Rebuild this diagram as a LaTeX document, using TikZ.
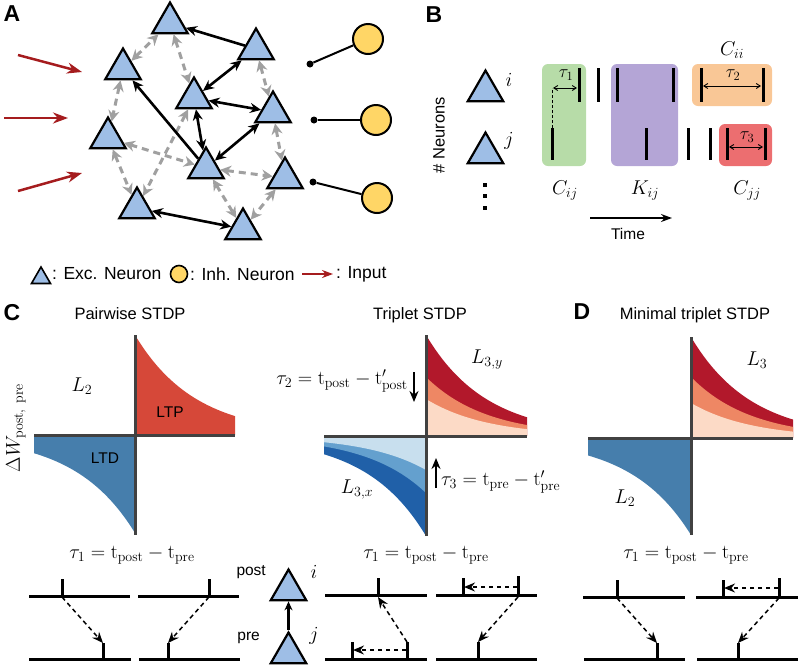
\RequirePackage{fix-cm}
\documentclass[tikz,border=0pt]{standalone}
\usepackage{fontspec}
\setsansfont{Liberation Sans}
\usetikzlibrary{arrows.meta,shapes.geometric}
\definecolor{excblue}{RGB}{158,190,230}
\definecolor{inhyellow}{RGB}{255,214,102}
\definecolor{edgegray}{RGB}{160,160,160}
\definecolor{inputred}{RGB}{165,28,30}
\definecolor{boxgreen}{RGB}{183,220,168}
\definecolor{boxpurple}{RGB}{180,165,214}
\definecolor{boxorange}{RGB}{249,199,150}
\definecolor{boxred}{RGB}{236,110,112}
\definecolor{ltpred}{RGB}{214,72,57}
\definecolor{ltdblue}{RGB}{70,126,172}
\definecolor{dred}{RGB}{178,24,43}
\definecolor{ored}{RGB}{238,135,100}
\definecolor{peach}{RGB}{252,218,198}
\definecolor{dblue}{RGB}{32,96,168}
\definecolor{mblue}{RGB}{100,160,206}
\definecolor{lblue}{RGB}{200,223,238}
\definecolor{axisgray}{RGB}{65,65,65}
\newcommand{\posfill}[5]{\fill[#1] (#2,#3) -- plot[domain=0:#5,samples=50] ({#2+\x},{#3-#4*exp(-\x/60)}) -- ({#2+#5},#3) -- cycle;}
\newcommand{\negfill}[5]{\fill[#1] (#2,#3) -- plot[domain=0:#5,samples=50] ({#2-\x},{#3+#4*exp(-\x/60)}) -- ({#2-#5},#3) -- cycle;}
\tikzset{
 exc/.style={regular polygon, regular polygon sides=3, draw=black, line width=2.2pt, fill=excblue, minimum size=41pt, inner sep=0pt},
 excsmall/.style={regular polygon, regular polygon sides=3, draw=black, line width=1.6pt, fill=excblue, minimum size=22pt, inner sep=0pt},
 inh/.style={circle, draw=black, line width=2pt, fill=inhyellow, minimum size=30pt, inner sep=0pt},
 inhsmall/.style={circle, draw=black, line width=1.6pt, fill=inhyellow, minimum size=17pt, inner sep=0pt},
 sedge/.style={draw=black, line width=2.6pt, {Stealth[length=11pt,width=10pt]}-{Stealth[length=11pt,width=10pt]}},
 sedgeone/.style={draw=black, line width=2.6pt, -{Stealth[length=11pt,width=10pt]}},
 dedge/.style={draw=edgegray, line width=3pt, dash pattern=on 7pt off 5pt, {Stealth[length=11pt,width=11pt]}-{Stealth[length=11pt,width=11pt]}},
 inarrow/.style={draw=inputred, line width=2.5pt, -{Stealth[length=15pt,width=11pt]}},
 mathlbl/.style={font=\fontsize{20}{22}\selectfont, inner sep=0pt},
 mathsmall/.style={font=\fontsize{18}{20}\selectfont, inner sep=0pt},
 sanslbl/.style={font=\sffamily\fontsize{16.5}{18}\selectfont, inner sep=0pt},
 sanslegend/.style={font=\sffamily\fontsize{17.5}{19}\selectfont, inner sep=0pt},
 sanssmall/.style={font=\sffamily\fontsize{15.5}{17}\selectfont, inner sep=0pt},
 panellbl/.style={font=\sffamily\bfseries\fontsize{23}{25}\selectfont, inner sep=0pt},
 spike/.style={line width=3pt},
 baseln/.style={line width=3pt},
 tarrow/.style={line width=1.5pt, dash pattern=on 4.5pt off 3.5pt, -{Stealth[length=11pt,width=9pt]}},
 taxis/.style={draw=axisgray, line width=3pt},
 tauarrow/.style={line width=0.9pt, {Straight Barb[length=4pt,width=5pt]}-{Straight Barb[length=4pt,width=5pt]}},
}
\begin{document}
\begin{tikzpicture}[x=1pt,y=-1pt]
\useasboundingbox (0,0) rectangle (800,665);
% ---------------- Panel A ----------------
\node[panellbl] (lA) at (12,14) {A};
\node[exc] (a1) at (170,23) {};
\node[exc] (a2) at (123,69) {};
\node[exc] (a3) at (256,49) {};
\node[exc] (a4) at (194,98) {};
\node[exc] (a5) at (273,112) {};
\node[exc] (a6) at (108,138) {};
\node[exc] (a7) at (206,168) {};
\node[exc] (a8) at (285,178) {};
\node[exc] (a9) at (137,208) {};
\node[exc] (a10) at (243,229) {};
% gray dashed
\draw[dedge] (a2) -- (a1);
\draw[dedge] (a1) -- (a4);
\draw[dedge] (a2) -- (a6);
\draw[dedge] (a3) -- (a5);
\draw[dedge] (a6) -- (a7);
\draw[dedge] (a6) -- (a9);
\draw[dedge] (a4) -- (a9);
\draw[dedge] (a7) -- (a8);
\draw[dedge] (a5) -- (a8);
\draw[dedge] (a7) -- (a10);
\draw[dedge] (a8) -- (a10);
% black
\draw[sedgeone] (a3) -- (a1);
\draw[sedge] (a4) -- (a3);
\draw[sedge] (a4) -- (a5);
\draw[sedgeone] (a7) -- (a2);
\draw[sedge] (a4) -- (a7);
\draw[sedge] (a5) -- (a7);
\draw[sedge] (a9) -- (a10);
% inputs
\coordinate (in1s) at (18,55); \coordinate (in1e) at (82,72);
\coordinate (in2s) at (4,118); \coordinate (in2e) at (68,118);
\coordinate (in3s) at (18,191); \coordinate (in3e) at (82,173);
\draw[inarrow] (in1s) -- (in1e);
\draw[inarrow] (in2s) -- (in2e);
\draw[inarrow] (in3s) -- (in3e);
% inhibitory
\node[inh] (h1) at (368,39) {};
\node[inh] (h2) at (376,120) {};
\node[inh] (h3) at (377,198) {};
\node[circle, fill=black, minimum size=7pt, inner sep=0pt] (d1) at (310,64) {};
\node[circle, fill=black, minimum size=7pt, inner sep=0pt] (d2) at (314,120) {};
\node[circle, fill=black, minimum size=7pt, inner sep=0pt] (d3) at (313,182) {};
\draw[line width=2pt] (d1) -- (h1);
\draw[line width=2pt] (d2) -- (h2);
\draw[line width=2pt] (d3) -- (h3);
% legend
\node[excsmall] (lg1) at (41,278) {};
\node[sanslegend, anchor=west] (lg1t) at (52,274) {: Exc. Neuron};
\node[inhsmall] (lg2) at (179,274) {};
\node[sanslegend, anchor=west] (lg2t) at (190,274) {: Inh. Neuron};
\coordinate (lg3s) at (302,274); \coordinate (lg3e) at (333,274);
\draw[draw=inputred, line width=2pt, -{Stealth[length=11pt,width=8pt]}] (lg3s) -- (lg3e);
\node[sanslegend, anchor=west] (lg3t) at (336,274) {: Input};
% ---------------- Panel B ----------------
\node[panellbl] (lB) at (434,15) {B};
\fill[boxgreen, rounded corners=6pt] (542,64) rectangle (586,166);
\fill[boxpurple, rounded corners=6pt] (611,64) rectangle (678,166);
\fill[boxorange, rounded corners=6pt] (692,64) rectangle (772,106);
\fill[boxred, rounded corners=6pt] (719,124) rectangle (772,166);
\node[exc] (ti) at (485.5,91) {};
\node[exc] (tj) at (485.5,153) {};
\node[mathlbl] (li) at (509,80) {$i$};
\node[mathlbl] (lj) at (509,141) {$j$};
\foreach \yy in {183,194,206} {\fill (483,\yy) rectangle (487,\yy+4);}
\node[sanslbl, rotate=90] (nn) at (439,135) {\# Neurons};
% spikes row i
\foreach \xx in {579,598,617,673,701,763} {\draw[spike] (\xx,68) -- (\xx,102);}
% spikes row j
\draw[spike] (552,128) -- (552,160);
\foreach \xx in {646,688,710,727,765} {\draw[spike] (\xx,128) -- (\xx,160);}
\draw[line width=1pt, dash pattern=on 3pt off 2pt] (552,128) -- (552,88);
\coordinate (t1a) at (553,88); \coordinate (t1b) at (577,88);
\draw[tauarrow] (t1a) -- (t1b);
\node[mathsmall] (lt1) at (566,75) {$\tau_1$};
\coordinate (t2a) at (703,86); \coordinate (t2b) at (761,86);
\draw[tauarrow] (t2a) -- (t2b);
\node[mathsmall] (lt2) at (733,75) {$\tau_2$};
\coordinate (t3a) at (729,147); \coordinate (t3b) at (763,147);
\draw[tauarrow] (t3a) -- (t3b);
\node[mathsmall] (lt3) at (747,137) {$\tau_3$};
\node[mathlbl] (cii) at (732,50) {$C_{ii}$};
\node[mathlbl] (cij) at (565,191) {$C_{ij}$};
\node[mathlbl] (kij) at (645,191) {$K_{ij}$};
\node[mathlbl] (cjj) at (747,191) {$C_{jj}$};
\coordinate (ts) at (590,218); \coordinate (te) at (672,218);
\draw[line width=1.5pt, -{Stealth[length=11pt,width=8pt]}] (ts) -- (te);
\node[sanssmall] (time) at (628,234) {Time};
% ---------------- Panel C ----------------
\node[panellbl] (lC) at (12,313) {C};
\node[sanslbl] (tC) at (130,314) {Pairwise STDP};
\posfill{ltpred}{135}{435}{100}{100}
\negfill{ltdblue}{135}{435}{98}{101}
\draw[taxis] (135,335) -- (135,535);
\draw[taxis] (34,435) -- (235,435);
\node[mathlbl] (l2c) at (82,386) {$L_2$};
\node[sanssmall] (ltp) at (170,412) {LTP};
\node[sanssmall] (ltd) at (105,458) {LTD};
\node[mathlbl, rotate=90] (dw) at (16,428) {$\Delta W_{\mathrm{post,\ pre}}$};
% ---------------- Triplet ----------------
\node[sanslbl] (tT) at (420,315) {Triplet STDP};
\posfill{dred}{426}{436}{101}{101}
\posfill{ored}{426}{436}{59}{101}
\posfill{peach}{426}{436}{37}{101}
\negfill{dblue}{426}{436}{100}{102}
\negfill{mblue}{426}{436}{57}{102}
\negfill{lblue}{426}{436}{34}{102}
\draw[taxis] (426,335) -- (426,536);
\draw[taxis] (324,436) -- (527,436);
\node[mathlbl] (l3y) at (487,360) {$L_{3,y}$};
\node[mathlbl, anchor=east] (eq2) at (408,381) {$\tau_2 = \mathrm{t}_{\mathrm{post}} - \mathrm{t}'_{\mathrm{post}}$};
\coordinate (ar2s) at (414,372); \coordinate (ar2e) at (414,402);
\draw[line width=1.8pt, -{Stealth[length=11pt,width=9pt]}] (ar2s) -- (ar2e);
\node[mathlbl] (l3x) at (357,490) {$L_{3,x}$};
\coordinate (ar3s) at (436,488); \coordinate (ar3e) at (436,458);
\draw[line width=1.8pt, -{Stealth[length=11pt,width=9pt]}] (ar3s) -- (ar3e);
\node[mathlbl, anchor=west] (eq3) at (441,482) {$\tau_3 = \mathrm{t}_{\mathrm{pre}} - \mathrm{t}'_{\mathrm{pre}}$};
% ---------------- Panel D ----------------
\node[panellbl] (lD) at (582,312) {D};
\node[sanslbl] (tD) at (695,315) {Minimal triplet STDP};
\posfill{dred}{691}{438}{101}{102}
\posfill{ored}{691}{438}{61}{102}
\posfill{peach}{691}{438}{35}{102}
\negfill{ltdblue}{691}{438}{97}{103}
\draw[taxis] (691,337) -- (691,535);
\draw[taxis] (588,438) -- (793,438);
\node[mathlbl] (l3d) at (757,360) {$L_3$};
\node[mathlbl] (l2d) at (625,498) {$L_2$};
% ---------------- tau1 labels ----------------
\node[mathlbl] (e1) at (132,555) {$\tau_1 = \mathrm{t}_{\mathrm{post}} - \mathrm{t}_{\mathrm{pre}}$};
\node[mathlbl] (e2) at (426,555) {$\tau_1 = \mathrm{t}_{\mathrm{post}} - \mathrm{t}_{\mathrm{pre}}$};
\node[mathlbl] (e3) at (686,555) {$\tau_1 = \mathrm{t}_{\mathrm{post}} - \mathrm{t}_{\mathrm{pre}}$};
% ---------------- spike diagrams: pairwise ----------------
\draw[baseln] (29,596) -- (130,596);
\draw[baseln] (138,596) -- (239,596);
\draw[baseln] (29,659) -- (131,659);
\draw[baseln] (139,659) -- (240,659);
\draw[spike] (62,579) -- (62,596);
\draw[spike] (209,579) -- (209,596);
\draw[spike] (103,643) -- (103,659);
\draw[spike] (168,643) -- (168,659);
\coordinate (p1s) at (62,597); \coordinate (p1e) at (103,643);
\coordinate (p2s) at (209,597); \coordinate (p2e) at (168,643);
\draw[tarrow] (p1s) -- (p1e);
\draw[tarrow] (p2s) -- (p2e);
% middle neurons
\node[sanssmall, anchor=east] (post) at (266,572) {post};
\node[sanssmall, anchor=east] (pre) at (260,638) {pre};
\node[exc] (bi) at (288.5,590) {};
\node[exc] (bj) at (288.5,653) {};
\node[mathlbl] (lbi) at (314,572) {$i$};
\node[mathlbl] (lbj) at (314,636) {$j$};
\draw[draw=black, line width=2.2pt, -{Stealth[length=9pt,width=8pt]}] (bj) -- (bi);
% ---------------- spike diagrams: triplet ----------------
\draw[baseln] (325,595) -- (427,595);
\draw[baseln] (436,595) -- (537,595);
\draw[baseln] (325,659) -- (427,659);
\draw[baseln] (436,659) -- (537,659);
\draw[spike] (378,578) -- (378,595);
\draw[spike] (463,578) -- (463,595);
\draw[spike] (518,576) -- (518,595);
\draw[spike] (352,642) -- (352,659);
\draw[spike] (407,642) -- (407,659);
\draw[spike] (478,642) -- (478,659);
\coordinate (q1s) at (517,587); \coordinate (q1e) at (464,587);
\coordinate (q2s) at (406,650); \coordinate (q2e) at (353,650);
\coordinate (q3s) at (407,642); \coordinate (q3e) at (378,597);
\coordinate (q4s) at (518,597); \coordinate (q4e) at (478,642);
\draw[tarrow] (q1s) -- (q1e);
\draw[tarrow] (q2s) -- (q2e);
\draw[tarrow] (q3s) -- (q3e);
\draw[tarrow] (q4s) -- (q4e);
% ---------------- spike diagrams: minimal ----------------
\draw[baseln] (583,597) -- (685,597);
\draw[baseln] (696,597) -- (798,597);
\draw[baseln] (584,659) -- (685,659);
\draw[baseln] (697,659) -- (798,659);
\draw[spike] (617,580) -- (617,597);
\draw[spike] (723,580) -- (723,597);
\draw[spike] (779,578) -- (779,597);
\draw[spike] (657,643) -- (657,659);
\draw[spike] (738,643) -- (738,659);
\coordinate (r1s) at (778,588); \coordinate (r1e) at (724,588);
\coordinate (r2s) at (617,598); \coordinate (r2e) at (657,643);
\coordinate (r3s) at (779,598); \coordinate (r3e) at (738,643);
\draw[tarrow] (r1s) -- (r1e);
\draw[tarrow] (r2s) -- (r2e);
\draw[tarrow] (r3s) -- (r3e);
\end{tikzpicture}
\end{document}
